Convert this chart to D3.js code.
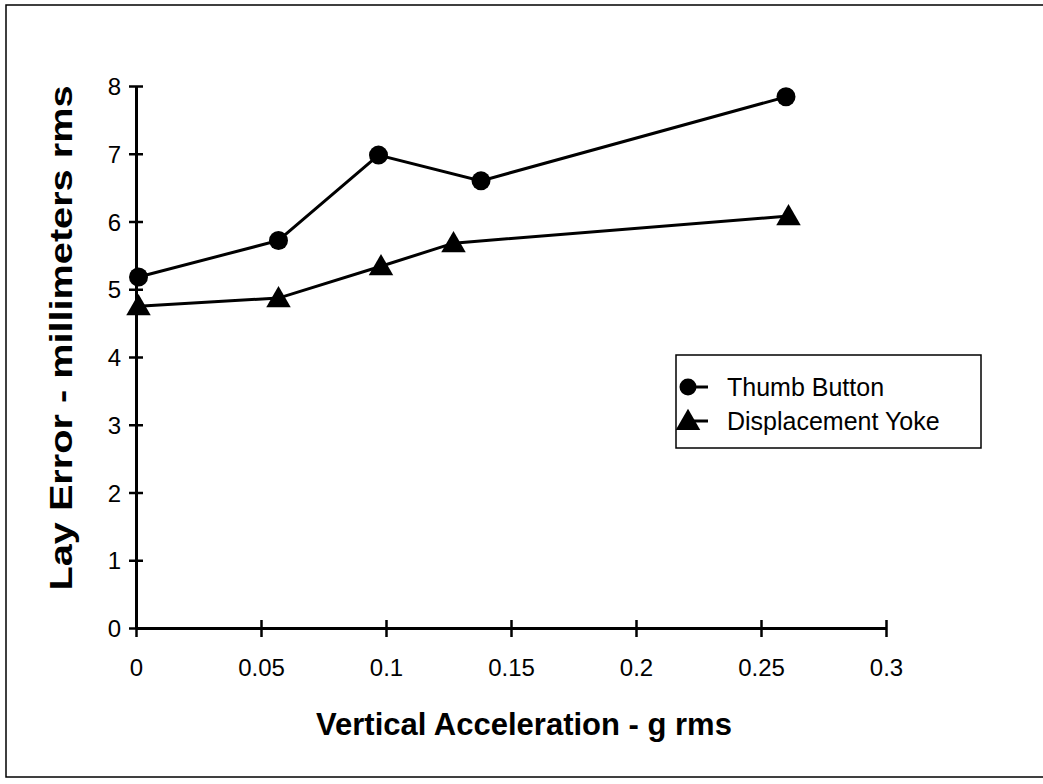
<!DOCTYPE html>
<html>
<head>
<meta charset="utf-8">
<script src="https://cdn.jsdelivr.net/npm/d3@7"></script>
<style>
    body { margin: 0; background: #fff; }
    svg { display: block; font-family: "Liberation Sans", Arial, sans-serif; }
    .tick text { font-size: 24px; fill: #000; }
</style>
</head>
<body>
<div id="chartPlaceholder"></div>
<script>
// values
const seriesNames = ['Thumb Button', 'Displacement Yoke'];
const thumbAccel = [0.001, 0.057, 0.097, 0.138, 0.260];
const thumbError = [5.18, 5.72, 6.98, 6.60, 7.84];
const yokeAccel = [0.001, 0.057, 0.098, 0.127, 0.261];
const yokeError = [4.75, 4.87, 5.34, 5.68, 6.08];
const xTicks = [0, 0.05, 0.1, 0.15, 0.2, 0.25, 0.3];
const yTicks = [0, 1, 2, 3, 4, 5, 6, 7, 8];

const width = 1043, height = 784;
const margin = {top: 86, left: 136, bottom: 156, right: 157};

const svg = d3.select('#chartPlaceholder')
              .append('svg')
              .attr('width', width)
              .attr('height', height);

// page frame
svg.append('rect')
   .attr('x', 6).attr('y', 5)
   .attr('width', 1045).attr('height', 772)
   .attr('fill', 'none')
   .attr('stroke', '#000')
   .attr('stroke-width', 1.5);

const x = d3.scaleLinear()
            .domain([0, 0.3])
            .range([margin.left, width - margin.right]);

const y = d3.scaleLinear()
            .domain([0, 8])
            .range([height - margin.bottom, margin.top]);

const xAxis = svg.append('g')
                 .attr('transform', `translate(0, ${y(0)})`)
                 .call(d3.axisBottom(x).tickValues(xTicks).tickSize(9).tickSizeOuter(0).tickPadding(22)
                         .tickFormat(d => String(d)));

const yAxis = svg.append('g')
                 .attr('transform', `translate(${x(0)}, 0)`)
                 .call(d3.axisLeft(y).tickValues(yTicks).tickSize(7).tickSizeOuter(0).tickPadding(8));

// ticks cross the axis line
xAxis.selectAll('.tick line').attr('y1', -8).attr('y2', 9).attr('stroke-width', 2.5);
yAxis.selectAll('.tick line').attr('x1', 7).attr('x2', -7).attr('stroke-width', 2.5);
xAxis.select('.domain').attr('stroke-width', 3);
yAxis.select('.domain').attr('stroke-width', 3);
xAxis.selectAll('.tick text').attr('dy', '0.71em');
yAxis.selectAll('.tick text').attr('dy', '0.36em');

const series = [
    {name: seriesNames[0], marker: 'circle', pts: thumbAccel.map((a, i) => ({a: a, e: thumbError[i]}))},
    {name: seriesNames[1], marker: 'triangle', pts: yokeAccel.map((a, i) => ({a: a, e: yokeError[i]}))}
];

const line = d3.line().x(d => x(d.a)).y(d => y(d.e));
const triangle = d3.symbol().type(d3.symbolTriangle).size(260);

series.forEach(s => {
    svg.append('path')
       .datum(s.pts)
       .attr('d', line)
       .attr('fill', 'none')
       .attr('stroke', '#000')
       .attr('stroke-width', 3);

    const g = svg.append('g').selectAll('path').data(s.pts);
    if (s.marker === 'circle') {
        g.join('circle')
         .attr('cx', d => x(d.a))
         .attr('cy', d => y(d.e))
         .attr('r', 9.5)
         .attr('fill', '#000');
    } else {
        g.join('path')
         .attr('d', triangle)
         .attr('transform', d => `translate(${x(d.a)}, ${y(d.e) + 2})`)
         .attr('fill', '#000');
    }
});

// legend
const legend = svg.append('g').attr('transform', 'translate(676, 355)');
legend.append('rect')
      .attr('width', 305).attr('height', 93)
      .attr('fill', '#fff')
      .attr('stroke', '#000')
      .attr('stroke-width', 1.5);

series.forEach((s, i) => {
    const row = legend.append('g').attr('transform', `translate(0, ${32 + i * 34})`);
    row.append('line')
       .attr('x1', 12).attr('x2', 32)
       .attr('stroke', '#000').attr('stroke-width', 3);
    if (s.marker === 'circle') {
        row.append('circle').attr('cx', 12).attr('r', 8.5).attr('fill', '#000');
    } else {
        row.append('path').attr('d', triangle).attr('transform', 'translate(12, 2)').attr('fill', '#000');
    }
    row.append('text')
       .attr('x', 51)
       .attr('dy', '0.36em')
       .style('font-size', '25px')
       .text(s.name);
});

// axis titles
svg.append('text')
   .attr('x', 524)
   .attr('y', 735)
   .attr('text-anchor', 'middle')
   .style('font-size', '31px')
   .style('font-weight', 'bold')
   .text('Vertical Acceleration - g rms');

svg.append('text')
   .attr('transform', `translate(72, 338) rotate(-90)`)
   .attr('text-anchor', 'middle')
   .attr('textLength', 505)
   .attr('lengthAdjust', 'spacingAndGlyphs')
   .style('font-size', '32px')
   .style('font-weight', 'bold')
   .text('Lay Error - millimeters rms');
</script>
</body>
</html>
